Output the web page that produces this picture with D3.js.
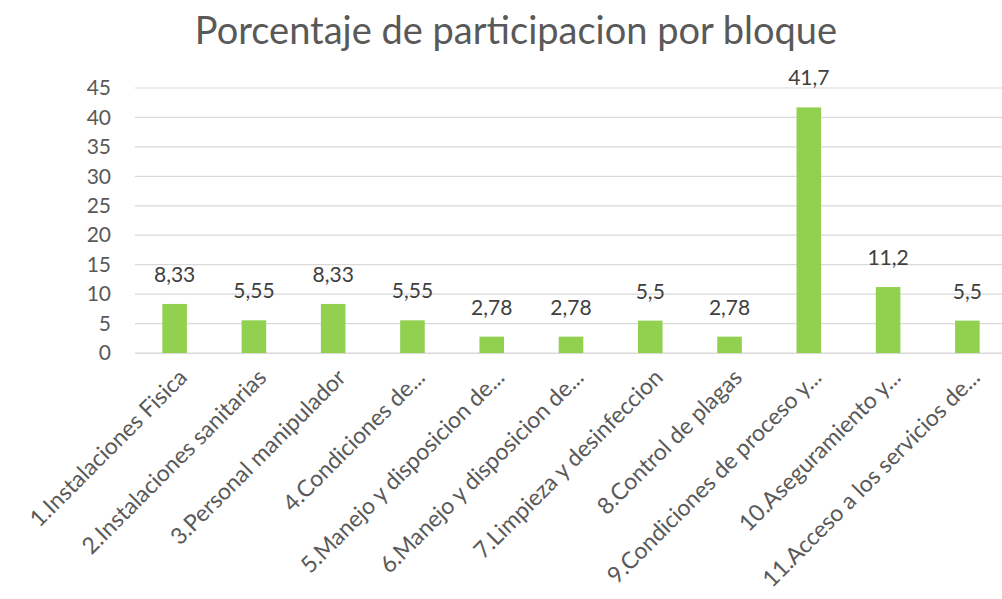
<!DOCTYPE html>
<html>
<head>
<meta charset="utf-8">
<script src="https://cdn.jsdelivr.net/npm/d3@7"></script>
<style>
  body { margin: 0; background: #fff; }
  svg { font-family: Lato, "Open Sans", sans-serif; }
</style>
</head>
<body>
<svg id="chart"></svg>
<script>
// data
const categories = [
    "1.Instalaciones Fisica",
    "2.Instalaciones sanitarias",
    "3.Personal manipulador",
    "4.Condiciones de...",
    "5.Manejo y disposicion de...",
    "6.Manejo y disposicion de...",
    "7.Limpieza y desinfeccion",
    "8.Control de plagas",
    "9.Condiciones de proceso y...",
    "10.Aseguramiento y...",
    "11.Acceso a los servicios de..."
];
const values = [8.33, 5.55, 8.33, 5.55, 2.78, 2.78, 5.5, 2.78, 41.7, 11.2, 5.5];
const valueLabels = ["8,33", "5,55", "8,33", "5,55", "2,78", "2,78", "5,5", "2,78", "41,7", "11,2", "5,5"];
const yTicks = [0, 5, 10, 15, 20, 25, 30, 35, 40, 45];

const width = 1002, height = 599;
const margin = {top: 88, left: 135, bottom: 246};
const plotRight = 1007;

const svg = d3.select("#chart")
    .attr("width", width)
    .attr("height", height);

const xScale = d3.scaleBand()
    .domain(categories)
    .range([margin.left, plotRight])
    .paddingInner(0.69)
    .paddingOuter(0.345);

const yScale = d3.scaleLinear()
    .domain([0, 45])
    .range([height - margin.bottom, margin.top]);

// gridlines
svg.append("g")
    .selectAll("line")
    .data(yTicks)
    .join("line")
    .attr("x1", margin.left)
    .attr("x2", plotRight)
    .attr("y1", d => yScale(d))
    .attr("y2", d => yScale(d))
    .attr("stroke", "#d9d9d9")
    .attr("stroke-width", 1.2);

// y axis labels
const yAxis = d3.axisLeft(yScale)
    .tickValues(yTicks)
    .tickSize(0)
    .tickPadding(0);

svg.append("g")
    .attr("transform", `translate(111,0)`)
    .call(yAxis)
    .call(g => g.select(".domain").remove())
    .selectAll("text")
    .attr("fill", "#595959")
    .style("font-size", "21px")
    .style("font-family", "Lato, sans-serif");

// bars
svg.append("g")
    .selectAll("rect")
    .data(values)
    .join("rect")
    .attr("x", (d, i) => xScale(categories[i]))
    .attr("y", d => yScale(d))
    .attr("width", xScale.bandwidth())
    .attr("height", d => yScale(0) - yScale(d))
    .attr("fill", "#92d050");

// value labels
svg.append("g")
    .selectAll("text")
    .data(values)
    .join("text")
    .attr("x", (d, i) => xScale(categories[i]) + xScale.bandwidth() / 2)
    .attr("y", d => yScale(d) - 22)
    .attr("text-anchor", "middle")
    .attr("fill", "#404040")
    .style("font-size", "21px")
    .text((d, i) => valueLabels[i]);

// x axis
const xAxis = d3.axisBottom(xScale).tickSize(0).tickPadding(0);

svg.append("g")
    .attr("transform", `translate(0,${yScale(0)})`)
    .call(xAxis)
    .call(g => g.select(".domain").attr("stroke", "#d9d9d9").attr("stroke-width", 1.2))
    .selectAll("text")
    .attr("fill", "#595959")
    .style("font-size", "23px")
    .style("font-family", "Lato, sans-serif")
    .attr("text-anchor", "end")
    .attr("dy", "0")
    .attr("transform", "translate(14,26) rotate(-45)");

// title
svg.append("text")
    .attr("x", 516)
    .attr("y", 44)
    .attr("text-anchor", "middle")
    .attr("fill", "#595959")
    .style("font-size", "38px")
    .text("Porcentaje de participacion por bloque");
</script>
</body>
</html>
